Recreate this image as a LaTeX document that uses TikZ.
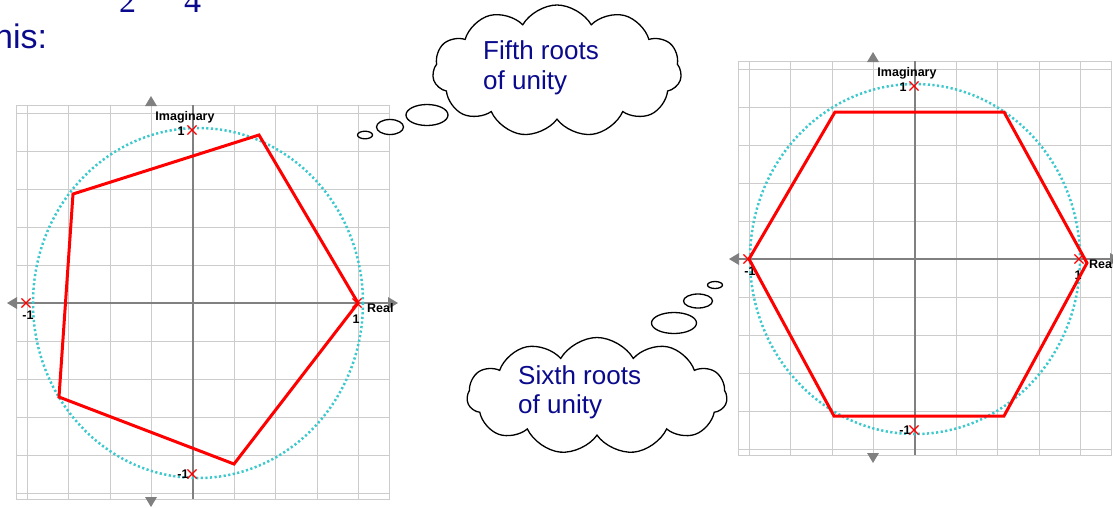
\documentclass[tikz,border=0pt]{standalone}
\usepackage{fontspec}
\setmainfont{Liberation Sans}
\newfontfamily\slideserif{Liberation Serif}
\usetikzlibrary{shapes.symbols,shapes.misc}

\definecolor{slideblue}{RGB}{10,10,140}
\definecolor{gridgray}{RGB}{204,204,204}
\definecolor{axisgray}{RGB}{128,128,128}
\definecolor{circcyan}{RGB}{60,200,205}

\begin{document}
\begin{tikzpicture}[x=1pt, y=-1pt,
    gridline/.style={gridgray, line width=1pt},
    axisline/.style={axisgray, line width=2.6pt},
    axistip/.style={fill=axisgray},
    unitcirc/.style={circcyan, line width=2.5pt, dash pattern=on 2.2pt off 2.4pt},
    rootpoly/.style={red, line width=3pt, line join=miter},
    rootmark/.style={cross out, draw=red, line width=1.1pt, minimum size=8pt, inner sep=0pt},
    axlabel/.style={font=\fontsize{12.5}{14}\selectfont\bfseries, inner sep=0pt},
    thought/.style={cloud, draw=black, fill=white, line width=1.3pt, cloud puffs=11, cloud puff arc=120},
    bubble/.style={draw=black, fill=white, line width=1.3pt},
    cloudtext/.style={slideblue, font=\fontsize{26}{30}\selectfont, inner sep=0pt, anchor=base west}]

  \useasboundingbox (0,0) rectangle (1113,507);
  \clip (0,0) rectangle (1113,507);

  % slide text cut by the top edge
  \node[slideblue, font=\fontsize{34}{40}\selectfont, inner sep=0pt, anchor=base west] (his) at (-6,48) {his:};
  \node[slideblue, font=\slideserif\fontsize{34}{40}\selectfont, inner sep=0pt, anchor=base west] (twoden) at (119,12) {2};
  \node[slideblue, font=\slideserif\fontsize{34}{40}\selectfont, inner sep=0pt, anchor=base west] (fourden) at (184,12) {4};

  % the two argand diagrams
  \foreach \cx/\cy/\ox/\p in {193/303/5/L, 915/259/0/R} {
    \begin{scope}[shift={(\cx,\cy)}]
      \foreach \k in {-4,...,4}
        \draw[gridline] ({41.4*\k},-198) -- ({41.4*\k},196);
      \foreach \k in {-5,...,5}
        \draw[gridline] (-177,{38*\k}) -- (196,{38*\k});
      \draw[gridline] (-177,-198) rectangle (196,196);
      % axes
      \draw[axisline] (-176,0) -- (195,0);
      \draw[axisline] (0,-198) -- (0,196);
      \fill[axistip] (-186,0) -- (-176,-6) -- (-176,6) -- cycle;
      \fill[axistip] (205,0) -- (195,-6) -- (195,6) -- cycle;
      \fill[axistip] (-42,-207) -- (-48,-197) -- (-36,-197) -- cycle;
      \fill[axistip] (-42,204) -- (-48,194) -- (-36,194) -- cycle;
      % unit circle
      \draw[unitcirc] (\ox,0) ellipse [x radius=165, y radius=175];
      % labels
      \node[axlabel, anchor=base west] (real\p) at (174,9) {Real};
      \node[axlabel, anchor=base] (imag\p) at (-8,-183) {Imaginary};
      \node[axlabel, anchor=base] (one\p) at (163,20) {1};
      \node[axlabel, anchor=base] (mone\p) at (-165,16) {-1};
      \node[axlabel, anchor=base] (ione\p) at (-12,-168) {1};
      \node[axlabel, anchor=base] (mione\p) at (-10,175) {-1};
      % marks at 1, i, -1, -i
      \node[rootmark] (re\p) at (164,0) {};
      \node[rootmark] (mre\p) at (-167,0) {};
      \node[rootmark] (im\p) at (-1,-173) {};
      \node[rootmark] (mim\p) at (-1,171) {};
    \end{scope}
  }

  % fifth roots
  \draw[rootpoly] (358,303) -- (259,135) -- (73,194) -- (59,397) -- (234,464) -- cycle;
  % sixth roots
  \draw[rootpoly] (749,259) -- (835,112) -- (1004,112) -- (1087,263) -- (1004,416) -- (834,416) -- cycle;

  % thought clouds
  \draw[bubble] (365,135) ellipse [x radius=7.5, y radius=3.8];
  \draw[bubble] (390,127) ellipse [x radius=13.5, y radius=7.5];
  \draw[bubble] (427,115) ellipse [x radius=21, y radius=10.5];
  \node[thought, minimum width=249pt, minimum height=132pt] (fifthcloud) at (557,71) {};
  \node[cloudtext] (fifthA) at (483,59) {Fifth roots};
  \node[cloudtext] (fifthB) at (483,89) {of unity};

  \draw[bubble] (715,285) ellipse [x radius=7.5, y radius=3.5];
  \draw[bubble] (698,301) ellipse [x radius=14.5, y radius=7];
  \draw[bubble] (674,323) ellipse [x radius=22.5, y radius=10.5];
  \node[thought, minimum width=260pt, minimum height=117pt] (sixthcloud) at (597,396) {};
  \node[cloudtext] (sixthA) at (518,384) {Sixth roots};
  \node[cloudtext] (sixthB) at (518,413) {of unity};
\end{tikzpicture}
\end{document}
